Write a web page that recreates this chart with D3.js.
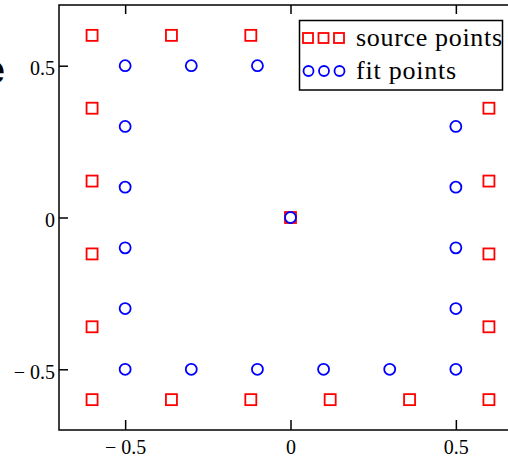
<!DOCTYPE html>
<html>
<head>
<meta charset="utf-8">
<script src="https://cdn.jsdelivr.net/npm/d3@7"></script>
<style>
  body { margin: 0; background: #fff; overflow: hidden; }
  svg { display: block; }
</style>
</head>
<body>
<div id="chart"></div>
<script>
// Source points (red squares)
const sourceX = [-0.6, -0.36, -0.12, 0.12, 0.36, 0.6, 0.6, 0.6, 0.6, 0.6, 0.6,
                 0.36, 0.12, -0.12, -0.36, -0.6, -0.6, -0.6, -0.6, -0.6, 0];
const sourceY = [0.6, 0.6, 0.6, 0.6, 0.6, 0.6, 0.36, 0.12, -0.12, -0.36, -0.6,
                 -0.6, -0.6, -0.6, -0.6, -0.6, -0.36, -0.12, 0.12, 0.36, 0];

// Fit points (blue circles)
const fitX = [-0.5, -0.3, -0.1, 0.1, 0.3, 0.5, 0.5, 0.5, 0.5, 0.5, 0.5,
              0.3, 0.1, -0.1, -0.3, -0.5, -0.5, -0.5, -0.5, -0.5, 0];
const fitY = [0.5, 0.5, 0.5, 0.5, 0.5, 0.5, 0.3, 0.1, -0.1, -0.3, -0.5,
              -0.5, -0.5, -0.5, -0.5, -0.5, -0.3, -0.1, 0.1, 0.3, 0];

const xTicks = [-0.5, 0, 0.5];
const yTicks = [-0.5, 0, 0.5];
const legendLabels = ["source points", "fit points"];

const drawChart = (containerId) => {
    const width = 508;
    const height = 459;
    // plot frame (right side runs past the window edge)
    const left = 59, top = 5, right = 522, bottom = 430;

    const svg = d3.select(containerId)
        .append("svg")
        .attr("width", width)
        .attr("height", height);

    const xScale = d3.scaleLinear().domain([-0.7, 0.7]).range([left, right]);
    const yScale = d3.scaleLinear().domain([-0.7, 0.7]).range([bottom, top]);

    const fmt = d => d < 0 ? "\u2212 " + Math.abs(d) : String(d);
    const serif = "'Liberation Serif', 'Times New Roman', serif";

    // cut-off bold letter at left edge (as in the original)
    svg.append("text")
        .attr("x", 5)
        .attr("y", 83)
        .attr("text-anchor", "end")
        .attr("font-family", "'Liberation Sans', Arial, sans-serif")
        .attr("font-weight", "bold")
        .attr("font-size", 38)
        .text("e");

    // frame
    svg.append("rect")
        .attr("x", left).attr("y", top)
        .attr("width", right - left).attr("height", bottom - top)
        .attr("fill", "none")
        .attr("stroke", "#000")
        .attr("stroke-width", 1.5);

    // axes with inward ticks
    const leftAxis = svg.append("g")
        .attr("transform", `translate(${left},0)`)
        .call(d3.axisLeft(yScale).tickValues(yTicks).tickFormat(fmt)
            .tickSizeInner(-9).tickSizeOuter(0).tickPadding(4));

    const bottomAxis = svg.append("g")
        .attr("transform", `translate(0,${bottom})`)
        .call(d3.axisBottom(xScale).tickValues(xTicks).tickFormat(fmt)
            .tickSizeInner(-10).tickSizeOuter(0).tickPadding(10));

    const topAxis = svg.append("g")
        .attr("transform", `translate(0,${top})`)
        .call(d3.axisTop(xScale).tickValues(xTicks).tickFormat("")
            .tickSizeInner(-9).tickSizeOuter(0));

    [leftAxis, bottomAxis, topAxis].forEach(g => {
        g.select(".domain").remove();
        g.selectAll("line").attr("stroke", "#000").attr("stroke-width", 1.5);
        g.selectAll("text")
            .attr("font-family", serif)
            .attr("font-size", 20)
            .attr("fill", "#000");
    });
    leftAxis.selectAll("text").attr("dy", "0.45em");

    // source points
    const sq = 11;
    svg.append("g")
        .selectAll("rect")
        .data(sourceX.map((x, i) => ({ x, y: sourceY[i] })))
        .join("rect")
        .attr("x", d => xScale(d.x) - sq / 2)
        .attr("y", d => yScale(d.y) - sq / 2)
        .attr("width", sq)
        .attr("height", sq)
        .attr("fill", "none")
        .attr("stroke", "#ff0000")
        .attr("stroke-width", 1.8);

    // fit points
    svg.append("g")
        .selectAll("circle")
        .data(fitX.map((x, i) => ({ x, y: fitY[i] })))
        .join("circle")
        .attr("cx", d => xScale(d.x))
        .attr("cy", d => yScale(d.y))
        .attr("r", 5.5)
        .attr("fill", "none")
        .attr("stroke", "#0000ff")
        .attr("stroke-width", 1.8);

    // legend
    const legend = svg.append("g");
    legend.append("rect")
        .attr("x", 299.5).attr("y", 20.5)
        .attr("width", 203).attr("height", 69.5)
        .attr("fill", "#fff")
        .attr("stroke", "#000")
        .attr("stroke-width", 1.5);

    const markerX = [308, 323.5, 339];
    legend.selectAll("rect.m")
        .data(markerX)
        .join("rect")
        .attr("class", "m")
        .attr("x", d => d - 5)
        .attr("y", 33)
        .attr("width", 10)
        .attr("height", 10)
        .attr("fill", "none")
        .attr("stroke", "#ff0000")
        .attr("stroke-width", 1.8);

    legend.selectAll("circle")
        .data(markerX)
        .join("circle")
        .attr("cx", d => d + 0.5)
        .attr("cy", 71)
        .attr("r", 5)
        .attr("fill", "none")
        .attr("stroke", "#0000ff")
        .attr("stroke-width", 1.8);

    const textLens = [146, 100];
    const textY = [46, 79];
    legend.selectAll("text")
        .data(legendLabels)
        .join("text")
        .attr("x", 356)
        .attr("y", (d, i) => textY[i])
        .attr("textLength", (d, i) => textLens[i])
        .attr("lengthAdjust", "spacing")
        .attr("font-family", serif)
        .attr("font-size", 26)
        .attr("fill", "#000")
        .text(d => d);
};

drawChart("#chart");
</script>
</body>
</html>
